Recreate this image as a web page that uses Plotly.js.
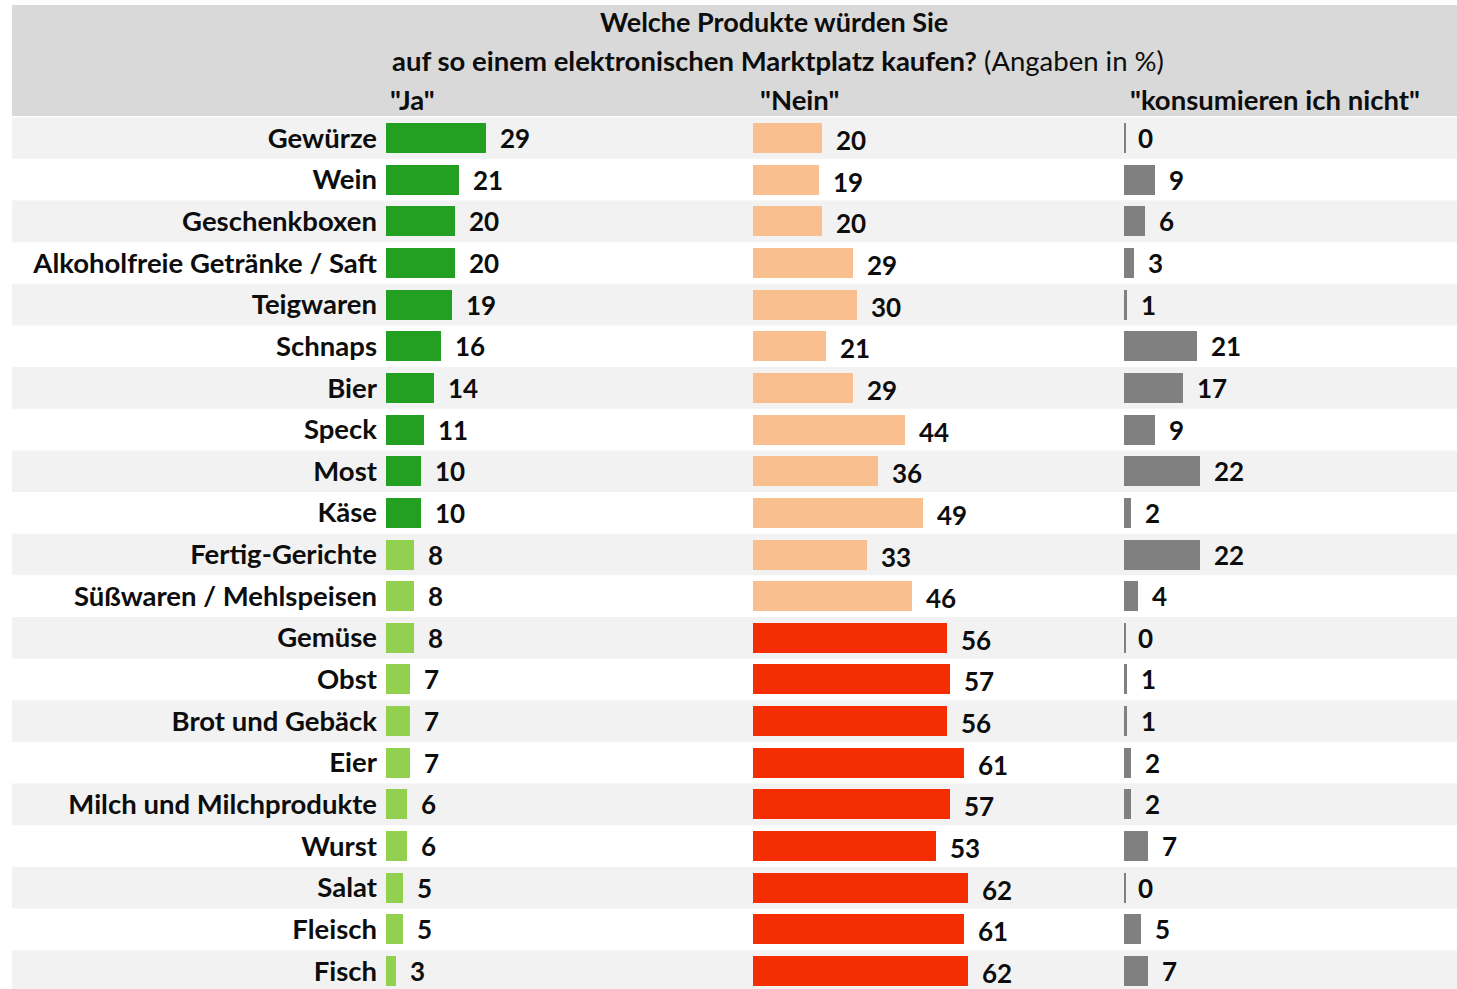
<!DOCTYPE html>
<html>
<head>
<meta charset="utf-8">
<script src="https://cdn.plot.ly/plotly-3.0.1.min.js"></script>
<style>
  html, body { margin: 0; padding: 0; background: #ffffff; }
  #chart { width: 1457px; height: 989px; }
</style>
</head>
<body>
<div id="chart"></div>
<script>
// ---- data ----
const categories = [
  "Gewürze", "Wein", "Geschenkboxen", "Alkoholfreie Getränke / Saft", "Teigwaren",
  "Schnaps", "Bier", "Speck", "Most", "Käse", "Fertig-Gerichte",
  "Süßwaren / Mehlspeisen", "Gemüse", "Obst", "Brot und Gebäck", "Eier",
  "Milch und Milchprodukte", "Wurst", "Salat", "Fleisch", "Fisch"
];
const jaValues = [29, 21, 20, 20, 19, 16, 14, 11, 10, 10, 8, 8, 8, 7, 7, 7, 6, 6, 5, 5, 3];
const neinValues = [20, 19, 20, 29, 30, 21, 29, 44, 36, 49, 33, 46, 56, 57, 56, 61, 57, 53, 62, 61, 62];
const konsumValues = [0, 9, 6, 3, 1, 21, 17, 9, 22, 2, 22, 4, 0, 1, 1, 2, 2, 7, 0, 5, 7];
const columnHeaders = ['"Ja"', '"Nein"', '"konsumieren ich nicht"'];
const titleLine1 = "Welche Produkte würden Sie";
const titleLine2Bold = "auf so einem elektronischen Marktplatz kaufen?";
const titleLine2Rest = " (Angaben in %)";

// ---- layout helpers ----
const W = 1457, H = 989;
const FONT = "Lato, 'Open Sans', 'DejaVu Sans', sans-serif";
const pxPerUnit = 3.46;
const rowTopPx = 117.2, rowPitch = 41.65;
const yIdx = categories.map((_, i) => i);
const yBottom = (H - (rowTopPx + rowPitch / 2)) / rowPitch;

function xDomain(startPx, endPx) { return [startPx / W, endPx / W]; }
function pyPaper(px) { return 1 - px / H; }

const jaColors = jaValues.map(v => v >= 10 ? "#23a021" : "#92d050");
const neinColors = neinValues.map(v => v >= 50 ? "#f42e00" : "#f9bf8f");
const konsumDisplay = konsumValues.map(v => Math.max(v, 0.5));

const barWidth = 0.72;
const traces = [
  { type: "bar", orientation: "h", x: jaValues, y: yIdx, xaxis: "x", yaxis: "y",
    width: barWidth, marker: { color: jaColors }, hoverinfo: "skip" },
  { type: "bar", orientation: "h", x: neinValues, y: yIdx, xaxis: "x2", yaxis: "y",
    width: barWidth, marker: { color: neinColors }, hoverinfo: "skip" },
  { type: "bar", orientation: "h", x: konsumDisplay, y: yIdx, xaxis: "x3", yaxis: "y",
    width: barWidth, marker: { color: "#808080" }, hoverinfo: "skip" }
];

const valFont = { family: FONT, size: 26, color: "#0d0d0d", weight: "bold" };
const annotations = [];
const sets = [[jaValues, "x", 0], [neinValues, "x2", 2], [konsumValues, "x3", 0]];
sets.forEach(([vals, ax, dy]) => {
  vals.forEach((v, i) => {
    annotations.push({
      x: v, y: i, xref: ax, yref: "y", text: String(v), showarrow: false,
      xanchor: "left", yanchor: "middle", xshift: 12, yshift: -dy, font: valFont
    });
  });
});

// header texts
annotations.push({
  x: 774 / W, y: pyPaper(21), xref: "paper", yref: "paper", showarrow: false,
  xanchor: "center", yanchor: "middle", text: "<b>" + titleLine1 + "</b>",
  font: { family: FONT, size: 27, color: "#0d0d0d" }
});
annotations.push({
  x: 778 / W, y: pyPaper(61), xref: "paper", yref: "paper", showarrow: false,
  xanchor: "center", yanchor: "middle", text: "<b>" + titleLine2Bold + "</b>" + titleLine2Rest,
  font: { family: FONT, size: 27.5, color: "#0d0d0d" }
});
const headerX = [388, 758, 1128];
columnHeaders.forEach((t, k) => {
  annotations.push({
    x: headerX[k] / W, y: pyPaper(99), xref: "paper", yref: "paper", showarrow: false,
    xanchor: "left", yanchor: "middle", text: "<b>" + t + "</b>",
    font: { family: FONT, size: 27.5, color: "#0d0d0d" }
  });
});

// background bands
const shapes = [
  { type: "rect", xref: "paper", yref: "paper", x0: 12 / W, x1: 1, y0: pyPaper(116), y1: pyPaper(5),
    fillcolor: "#d9d9d9", line: { width: 0 }, layer: "below" }
];
yIdx.forEach(i => {
  if (i % 2 === 0) {
    shapes.push({ type: "rect", xref: "paper", yref: "y", x0: 12 / W, x1: 1, y0: i - 0.5, y1: i + 0.5,
      fillcolor: "#f2f2f2", line: { width: 0 }, layer: "below" });
  }
});

const xCommon = { showgrid: false, zeroline: false, showticklabels: false, ticks: "", showline: false, fixedrange: true };
const layout = {
  width: W, height: H,
  margin: { l: 0, r: 0, t: 0, b: 0, pad: 0 },
  paper_bgcolor: "#ffffff", plot_bgcolor: "rgba(0,0,0,0)",
  showlegend: false, bargap: 0,
  xaxis: Object.assign({}, xCommon, { domain: xDomain(386, 740), range: [0, (740 - 386) / pxPerUnit], anchor: "y" }),
  xaxis2: Object.assign({}, xCommon, { domain: xDomain(753, 1110), range: [0, (1110 - 753) / pxPerUnit], anchor: "y" }),
  xaxis3: Object.assign({}, xCommon, { domain: xDomain(1124, 1457), range: [0, (1457 - 1124) / pxPerUnit], anchor: "y" }),
  yaxis: {
    domain: [0, pyPaper(rowTopPx)], range: [yBottom, -0.5], anchor: "x",
    tickvals: yIdx, ticktext: categories, ticks: "", showgrid: false, zeroline: false, showline: false,
    tickfont: { family: FONT, size: 27.5, color: "#0d0d0d", weight: "bold" },
    ticklabelstandoff: 8, fixedrange: true
  },
  shapes: shapes,
  annotations: annotations
};

Plotly.newPlot("chart", traces, layout, { displayModeBar: false, staticPlot: true });
</script>
</body>
</html>
